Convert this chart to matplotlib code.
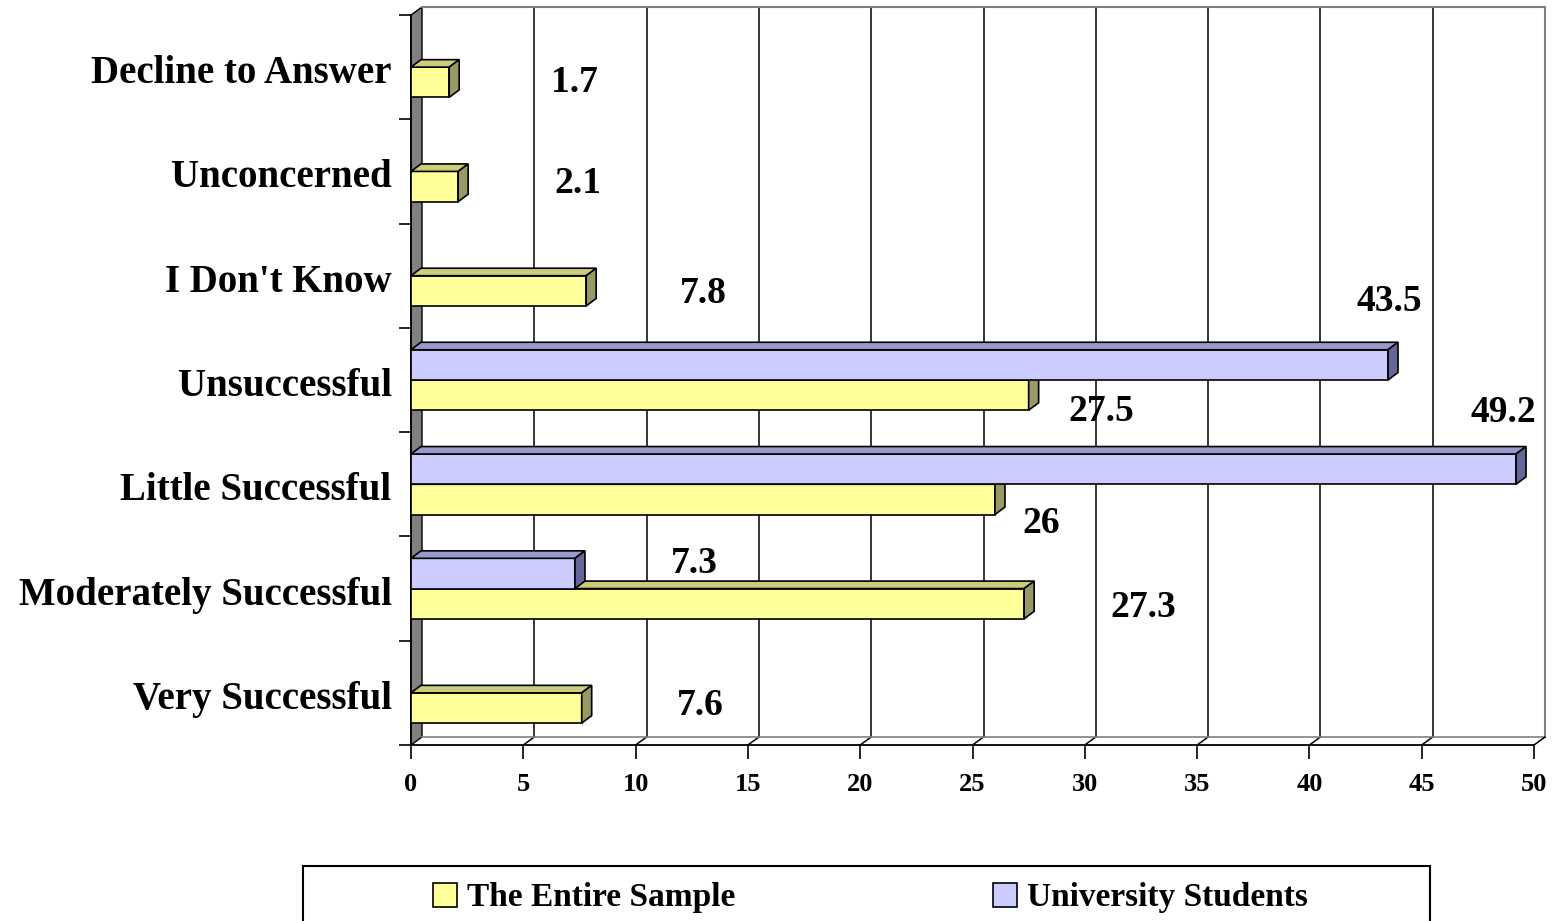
import matplotlib.pyplot as plt
from matplotlib.patches import Polygon, Rectangle
from matplotlib.transforms import ScaledTranslation

# ------------------------------------------------------------
# data
# ------------------------------------------------------------
CATEGORIES = [
    "Very Successful",
    "Moderately Successful",
    "Little Successful",
    "Unsuccessful",
    "I Don't Know",
    "Unconcerned",
    "Decline to Answer",
]
ENTIRE_SAMPLE = [7.6, 27.3, 26, 27.5, 7.8, 2.1, 1.7]
UNIVERSITY = [0, 7.3, 49.2, 43.5, 0, 0, 0]
SERIES_NAMES = ["The Entire Sample", "University Students"]
X_TICKS = list(range(0, 55, 5))

# ------------------------------------------------------------
# style
# ------------------------------------------------------------
W, H, DPI = 1555, 921, 100
FONT = "Liberation Serif"
AX_BOX_PX = (411, 15, 1534, 745)      # left, top, right, bottom (front plane)
WALL_DEPTH_PX = (11, 8)
BAR_DEPTH_PX = (10, 7.5)
BAR_H = 0.29

COLORS = {
    "The Entire Sample": ("#FFFF99", "#CCCC7A", "#999966"),
    "University Students": ("#CCCCFF", "#9999CC", "#666699"),
}
# label offsets in pixels from the bar end (dx, dy)
ENTIRE_LABEL_OFFSETS = [(119, 2), (119, -4), (46, -24), (73, -16), (117, -3), (120, 3), (125, 0)]
UNIV_LABEL_OFFSETS = [(0, 0), (119, 10), (-13, 57), (1, 63), (0, 0), (0, 0), (0, 0)]

plt.rcParams["font.family"] = FONT
plt.rcParams["font.weight"] = "bold"


def px2fig(x, y):
    return x / W, (H - y) / H


def draw_box(ax, x0, y0, length, height, depth, colors, z):
    """Front face + top face + right face of an Excel style 3D bar."""
    dx, dy = depth
    front, top, side = colors
    x1, y1 = x0 + length, y0 + height
    ax.add_patch(Rectangle((x0, y0), length, height, facecolor=front,
                           edgecolor="black", lw=1.2, zorder=z, clip_on=False))
    ax.add_patch(Polygon([(x0, y1), (x1, y1), (x1 + dx, y1 + dy), (x0 + dx, y1 + dy)],
                         closed=True, facecolor=top, edgecolor="black", lw=1.2,
                         zorder=z, clip_on=False))
    ax.add_patch(Polygon([(x1, y0), (x1 + dx, y0 + dy), (x1 + dx, y1 + dy), (x1, y1)],
                         closed=True, facecolor=side, edgecolor="black", lw=1.2,
                         zorder=z, clip_on=False))


def main():
    fig = plt.figure(figsize=(W / DPI, H / DPI), dpi=DPI)
    l, t, r, b = AX_BOX_PX
    fx0, fy0 = px2fig(l, b)
    fx1, fy1 = px2fig(r, t)
    ax = fig.add_axes([fx0, fy0, fx1 - fx0, fy1 - fy0])

    n = len(CATEGORIES)
    ax.set_xlim(X_TICKS[0], X_TICKS[-1])
    ax.set_ylim(0, n)

    # pixel depth -> data units
    inv = ax.transData.inverted()
    origin = ax.transData.transform((0, 0))

    def to_data(d):
        p = inv.transform((origin[0] + d[0], origin[1] + d[1]))
        return p[0], p[1]

    wdx, wdy = to_data(WALL_DEPTH_PX)
    bdepth = to_data(BAR_DEPTH_PX)
    xmin, xmax = X_TICKS[0], X_TICKS[-1]

    # side wall (left, gray)
    ax.add_patch(Polygon([(xmin, 0), (xmin + wdx, wdy), (xmin + wdx, n + wdy), (xmin, n)],
                         closed=True, facecolor="#808080", edgecolor="black", lw=1,
                         zorder=1, clip_on=False))
    # back wall grid lines
    for xv in X_TICKS[1:-1]:
        ax.plot([xv + wdx, xv + wdx], [wdy, n + wdy], color="black", lw=1.1,
                zorder=0.5, clip_on=False)
        ax.plot([xv, xv + wdx], [0, wdy], color="black", lw=1.1, zorder=0.5, clip_on=False)
    ax.plot([xmax + wdx, xmax + wdx], [wdy, n + wdy], color="#808080", lw=1.5, clip_on=False)
    ax.plot([xmin + wdx, xmax + wdx], [n + wdy, n + wdy], color="#808080", lw=1.5, clip_on=False)
    ax.plot([xmin + wdx, xmax + wdx], [wdy, wdy], color="#808080", lw=1.2, clip_on=False)
    ax.plot([xmax, xmax + wdx], [0, wdy], color="black", lw=1.1, clip_on=False)

    # bars
    for i in range(n):
        c = i + 0.5
        if ENTIRE_SAMPLE[i] > 0:
            draw_box(ax, 0, c - BAR_H, ENTIRE_SAMPLE[i], BAR_H, bdepth,
                     COLORS[SERIES_NAMES[0]], 3 + i)
            ax.annotate(f"{ENTIRE_SAMPLE[i]:g}", xy=(ENTIRE_SAMPLE[i], c - BAR_H / 2),
                        xytext=ENTIRE_LABEL_OFFSETS[i], textcoords="offset pixels",
                        ha="center", va="center", fontsize=27, fontweight="bold", zorder=20)
        if UNIVERSITY[i] > 0:
            draw_box(ax, 0, c, UNIVERSITY[i], BAR_H, bdepth,
                     COLORS[SERIES_NAMES[1]], 3.5 + i)
            ax.annotate(f"{UNIVERSITY[i]:g}", xy=(UNIVERSITY[i], c + BAR_H / 2),
                        xytext=UNIV_LABEL_OFFSETS[i], textcoords="offset pixels",
                        ha="center", va="center", fontsize=27, fontweight="bold", zorder=20)

    # axes
    for side in ("top", "right"):
        ax.spines[side].set_visible(False)
    ax.spines["left"].set_linewidth(1.3)
    ax.spines["bottom"].set_linewidth(1.3)
    ax.spines["left"].set_zorder(2)
    ax.patch.set_alpha(0)

    ax.set_xticks(X_TICKS)
    ax.set_xticklabels([str(v) for v in X_TICKS], fontsize=19, fontweight="bold")
    ax.tick_params(axis="x", direction="out", length=10, width=1.2, pad=10)

    ax.set_yticks([i + 0.5 for i in range(n)])
    ax.set_yticklabels(CATEGORIES, fontsize=28, fontweight="bold")
    ax.tick_params(axis="y", which="major", length=0, pad=14)
    ax.set_yticks(range(n + 1), minor=True)
    ax.tick_params(axis="y", which="minor", direction="out", length=9, width=1.2)
    nudge = ScaledTranslation(0, -2 / DPI, fig.dpi_scale_trans)
    for lab in ax.get_yticklabels():
        lab.set_transform(lab.get_transform() + nudge)

    # legend box (manual, frame runs off the bottom edge)
    lx0, ly0 = px2fig(303, 866)
    lx1, _ = px2fig(1430, 866)
    fig.add_artist(Rectangle((lx0, -0.05), lx1 - lx0, ly0 + 0.05, transform=fig.transFigure,
                             facecolor="white", edgecolor="black", lw=1.5))
    for name, (sx, tx) in zip(SERIES_NAMES, [(433, 467), (993, 1027)]):
        mx, my = px2fig(sx, 907)
        fig.add_artist(Rectangle((mx, my), 24 / W, 24 / H, transform=fig.transFigure,
                                 facecolor=COLORS[name][0], edgecolor="black", lw=1.2))
        tx_f, ty_f = px2fig(tx, 897)
        fig.text(tx_f, ty_f, name, ha="left", va="center", fontsize=24, fontweight="bold")

    fig.savefig("out.png", dpi=DPI, facecolor="white")
    plt.close(fig)


if __name__ == "__main__":
    main()
